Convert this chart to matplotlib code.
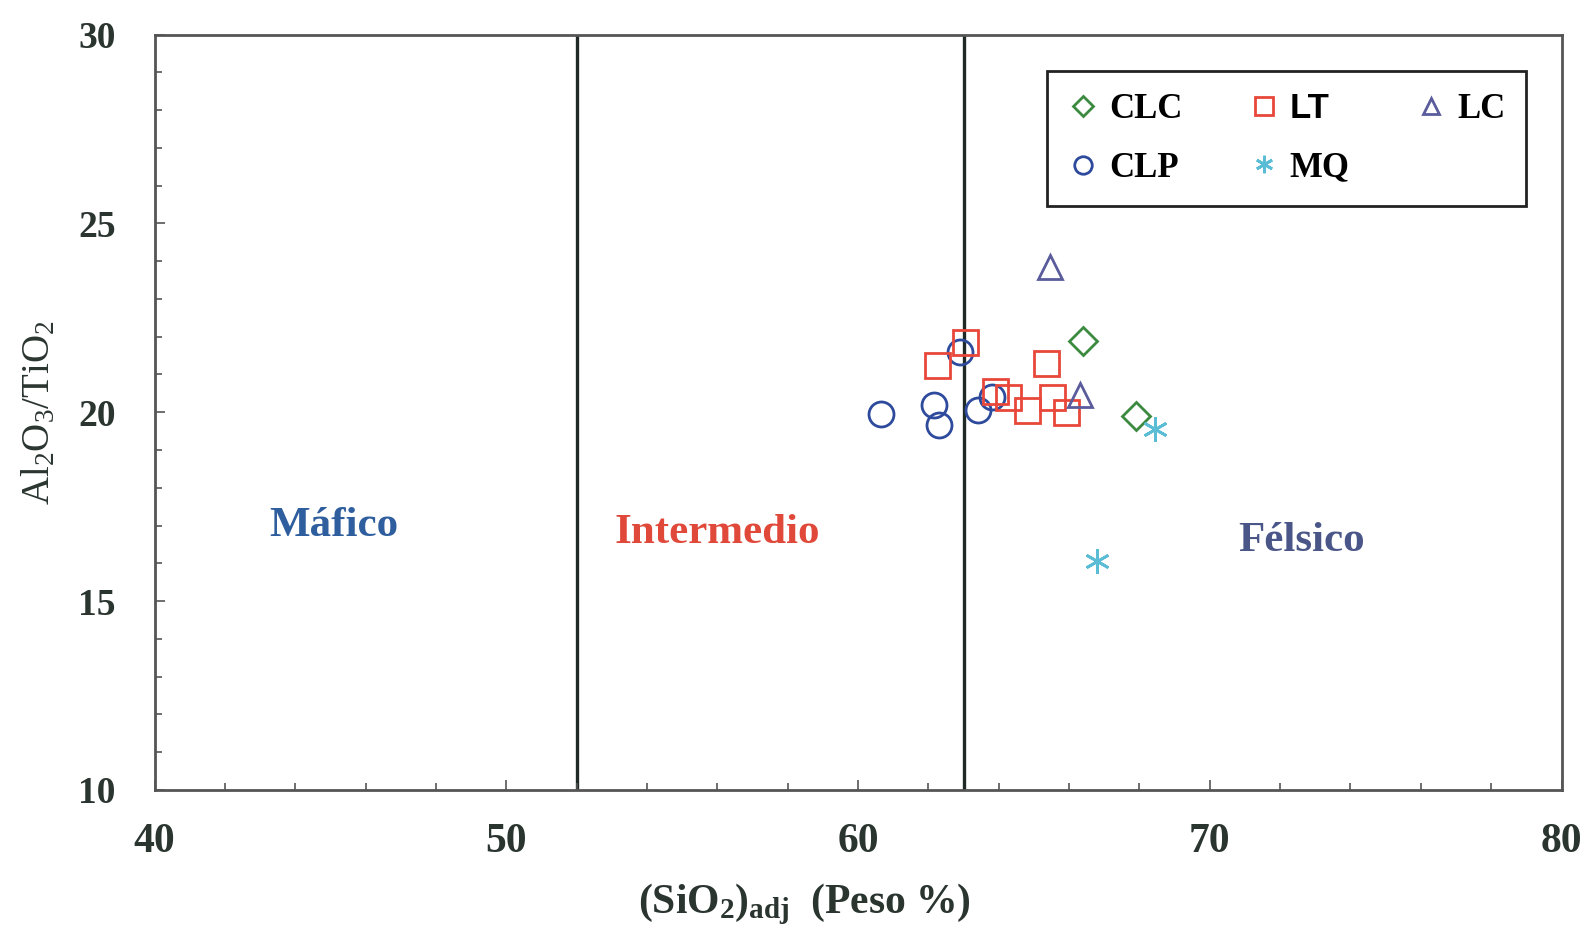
import numpy as np
import matplotlib
import matplotlib.pyplot as plt
from matplotlib.ticker import MultipleLocator

matplotlib.use("Agg")

plt.rcParams["font.family"] = ["Liberation Serif", "DejaVu Serif"]
plt.rcParams["mathtext.fontset"] = "custom"
plt.rcParams["mathtext.rm"] = "Liberation Serif"
plt.rcParams["mathtext.bf"] = "Liberation Serif:bold"
plt.rcParams["mathtext.it"] = "Liberation Serif:italic"

# ── datos (SiO2 ajustado vs Al2O3/TiO2) ─────────────────────
clc_x = [66.4, 67.9]
clc_y = [21.9, 19.9]

lt_x = [63.05, 62.25, 65.35, 63.9, 64.25, 64.8, 65.5, 65.9]
lt_y = [21.85, 21.25, 21.3, 20.55, 20.4, 20.05, 20.4, 20.0]

lc_x = [65.45, 66.3]
lc_y = [23.85, 20.45]

clp_x = [60.65, 62.15, 62.3, 62.9, 63.4, 63.8]
clp_y = [19.95, 20.2, 19.65, 21.6, 20.05, 20.4]

mq_x = [68.45, 66.8]
mq_y = [19.55, 16.05]

limites = [52, 63]
campos = ["Máfico", "Intermedio", "Félsico"]
campos_x = [45.1, 56.0, 72.6]
campos_y = [17.0, 16.8, 16.6]
campos_col = ["#2f5e9e", "#e0483a", "#4a5688"]

fig = plt.figure(figsize=(15.95, 9.38), dpi=100)
ax = fig.add_axes([0.097, 0.158, 0.882, 0.805])

for xv in limites:
    ax.axvline(xv, color="#1f2a26", lw=2.4, zorder=1)

kw = dict(linestyle="none", markerfacecolor="none", mew=2.0, zorder=3)
ax.plot(clc_x, clc_y, marker="D", ms=14, color="#3b8a3f", label="CLC", **kw)
ax.plot(clp_x, clp_y, marker="o", ms=18, color="#2d4a9c", label="CLP", **kw)
ax.plot(lt_x, lt_y, marker="s", ms=18, color="#e8473a", label="LT", **kw)
ax.plot(mq_x, mq_y, marker=(6, 2, 0), ms=18, color="#5bbcd6", label="MQ", **kw)
ax.plot(lc_x, lc_y, marker="^", ms=17, color="#5a5c9c", label="LC", **kw)

for t, xv, yv, c in zip(campos, campos_x, campos_y, campos_col):
    ax.text(xv, yv, t, color=c, fontsize=31, fontweight="bold",
            ha="center", va="center")

ax.set_xlim(40, 80)
ax.set_ylim(10, 30)
ax.xaxis.set_major_locator(MultipleLocator(10))
ax.xaxis.set_minor_locator(MultipleLocator(2))
ax.yaxis.set_major_locator(MultipleLocator(5))
ax.yaxis.set_minor_locator(MultipleLocator(1))
ax.tick_params(which="both", direction="in", color="#555555", width=1.2)
ax.tick_params(which="major", length=7, labelcolor="#2b3530")
ax.tick_params(axis="x", which="major", pad=24, labelsize=30)
ax.tick_params(axis="y", which="major", pad=28, labelsize=27)
ax.tick_params(which="minor", length=5)
for lab in ax.get_xticklabels() + ax.get_yticklabels():
    lab.set_fontweight("bold")

for s in ax.spines.values():
    s.set_color("#555555")
    s.set_linewidth(2)

ax.set_xlabel(r"$\mathbf{(SiO_2)_{adj}\ \ (Peso\ \%)}$", fontsize=30,
              color="#2b3530")
ax.xaxis.set_label_coords(0.462, -0.122)
ax.set_ylabel(r"$\mathrm{Al_2O_3/TiO_2}$", fontsize=28, color="#2b3530",
              labelpad=14)

leg = ax.legend(ncol=3, loc="upper left", bbox_to_anchor=(0.634, 0.788, 0.341, 0.164),
                mode="expand", borderaxespad=0, fancybox=False,
                edgecolor="#222222", framealpha=1,
                markerscale=0.7, handlelength=0.9, handletextpad=0.3,
                borderpad=0.6, labelspacing=0.75, columnspacing=1.0,
                prop={"family": "Liberation Serif", "weight": "bold", "size": 25})
leg.get_frame().set_linewidth(2)
for txt in leg.get_texts():
    if txt.get_text() == "LT":
        txt.set_family("Liberation Sans")

fig.savefig("out.png", dpi=100)
